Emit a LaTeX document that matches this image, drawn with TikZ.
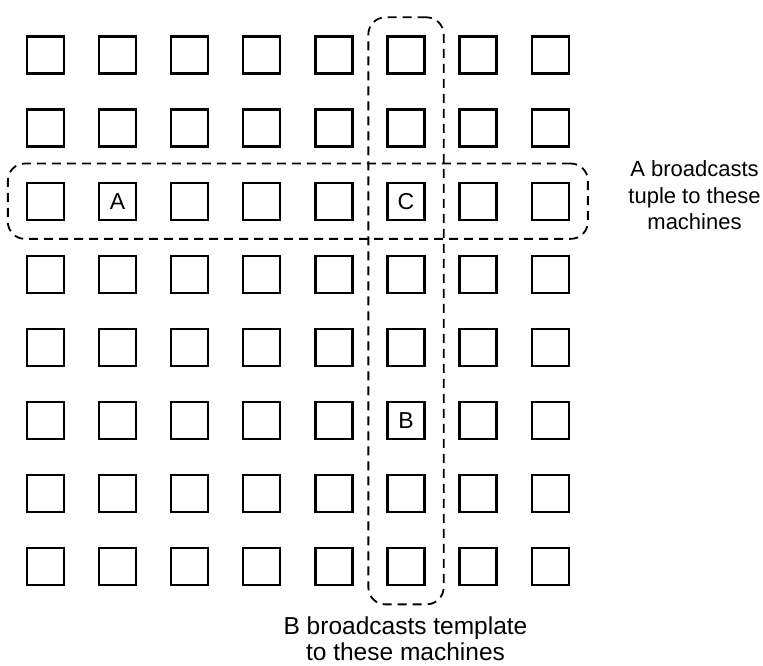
\documentclass[tikz,border=0pt]{standalone}
\usepackage{fontspec}
\setmainfont{Liberation Sans}
\usetikzlibrary{fit}
\tikzset{
  machine/.style={draw, line width=2.3pt, minimum size=37pt, inner sep=0pt, font=\fontsize{23}{26}\selectfont},
  groupbox/.style={draw, dashed, dash pattern=on 9pt off 6pt, line width=1.8pt, rounded corners=17pt, inner sep=18pt},
  caption/.style={align=center, font=\fontsize{22}{26.5}\selectfont, inner sep=0pt}
}
\begin{document}
\begin{tikzpicture}[x=1pt,y=-1pt]
\useasboundingbox (0,0) rectangle (763,666);
\foreach \r in {1,...,8}{
  \foreach \c in {1,...,8}{
    \def\lbl{}
    \ifnum\r=3 \ifnum\c=2 \def\lbl{A}\fi\ifnum\c=6 \def\lbl{C}\fi\fi
    \ifnum\r=6 \ifnum\c=6 \def\lbl{B}\fi\fi
    \node[machine] (m-\r-\c) at ({45.5+72.1*(\c-1)},{55+73.1*(\r-1)}) {\lbl};
  }
}
\node[groupbox, fit=(m-3-1)(m-3-8)] (rowbox) {};
\node[groupbox, fit=(m-1-6)(m-8-6)] (colbox) {};
\node[caption] (tuplelabel) at (694.5,195.5) {A broadcasts\\tuple to these\\machines};
\node[caption, font=\fontsize{24.5}{26.5}\selectfont] (templatelabel) at (405.5,638.5) {B broadcasts template\\to these machines};
\end{tikzpicture}
\end{document}
